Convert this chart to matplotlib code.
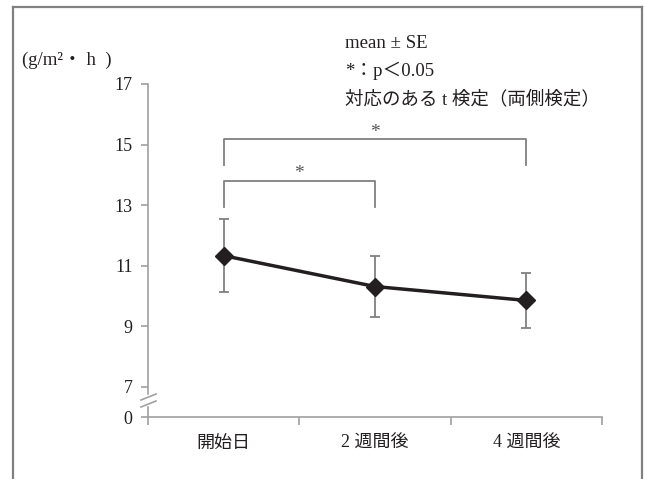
import matplotlib
matplotlib.use("Agg")
import matplotlib.pyplot as plt
from matplotlib.lines import Line2D
import numpy as np

plt.rcParams['font.family'] = ['Liberation Serif', 'Noto Sans CJK JP']

categories = ["開始日", "2 週間後", "4 週間後"]
means = [11.33, 10.31, 9.85]
se = [1.20, 1.01, 0.90]
ytick_vals = [6, 7, 9, 11, 13, 15, 17]
ytick_labels = ["0", "7", "9", "11", "13", "15", "17"]

fig = plt.figure(figsize=(6.46, 4.79), dpi=100)
W, H = 646, 479
ax = fig.add_axes([148 / W, 1 - 417 / H, (602 - 148) / W, (417 - 84) / H])

axis_col = "#a0a0a0"
text_col = "#231f20"

x = np.arange(len(categories))
ax.errorbar(x, means, yerr=se, fmt="none", ecolor="#808080", elinewidth=1.3,
            capsize=3.8, capthick=1.3, zorder=2)
ax.plot(x, means, color=text_col, lw=2.5, marker="D", markersize=9,
        markerfacecolor=text_col, markeredgecolor=text_col, zorder=3)

ax.set_xlim(-0.5, 2.5)
ax.set_ylim(6, 17)
ax.set_yticks(ytick_vals)
ax.set_yticklabels(ytick_labels, fontsize=13, color=text_col)
ax.set_xticks([-0.5, 0.5, 1.5, 2.5])
ax.set_xticklabels([])
ax.set_xticks(x, minor=True)
ax.set_xticklabels(categories, minor=True, fontsize=13, color=text_col)
ax.tick_params(axis="x", which="minor", length=0, pad=13)
ax.tick_params(axis="x", which="major", direction="out", length=6, color=axis_col, width=1.2)
ax.tick_params(axis="y", direction="out", length=5, color=axis_col, width=1.2, pad=6)
for s in ["top", "right"]:
    ax.spines[s].set_visible(False)
for s in ["left", "bottom"]:
    ax.spines[s].set_color(axis_col)
    ax.spines[s].set_linewidth(1.2)

# axis break marks
trans = ax.transAxes
def px(xp, yp):
    return ((xp - 148) / (602 - 148), (417 - yp) / (417 - 84))
a, b = px(148, 396), px(148, 404)
ax.add_line(Line2D([a[0], b[0]], [a[1], b[1]], transform=trans, color="white",
                   lw=2.5, clip_on=False, zorder=4))
for off in (0, 7):
    a = px(141, 400 + off)
    b = px(156, 394 + off)
    ax.add_line(Line2D([a[0], b[0]], [a[1], b[1]], transform=trans, color=axis_col,
                       lw=1.2, clip_on=False, zorder=5))

# significance brackets
br_col = "#808080"
def bracket(x0, x1, ytop, ylow, ystar):
    ax.plot([x0, x0, x1, x1], [ylow, ytop, ytop, ylow], color=br_col, lw=1.3,
            clip_on=False, zorder=1)
    ax.text((x0 + x1) / 2, ystar, "*", ha="center", va="center", fontsize=14,
            color="#555555")
bracket(0, 2, 15.18, 14.32, 15.4)
bracket(0, 1, 13.8, 12.94, 14.05)

# annotation text
fig.text(345 / W, 1 - 44 / H, "mean ± SE", fontsize=13.5, color=text_col, va="center", ha="left")
fig.text(345 / W, 1 - 71 / H, "*：p＜0.05", fontsize=13.5, color=text_col, va="center", ha="left")
fig.text(345 / W, 1 - 99 / H, "対応のある t 検定（両側検定）", fontsize=13.3, color=text_col,
         va="center", ha="left")
fig.text(22 / W, 1 - 60 / H, "(g/m²・ h  )", fontsize=13.5, color=text_col, va="center", ha="left")

# outer frame (open at bottom)
fc = "#808080"
fig.add_artist(Line2D([13 / W, 13 / W], [0, 1 - 7 / H], color=fc, lw=1.6))
fig.add_artist(Line2D([13 / W, 642 / W], [1 - 7 / H, 1 - 7 / H], color=fc, lw=1.6))
fig.add_artist(Line2D([642 / W, 642 / W], [0, 1 - 7 / H], color=fc, lw=1.6))

fig.savefig("out.png", dpi=100)
